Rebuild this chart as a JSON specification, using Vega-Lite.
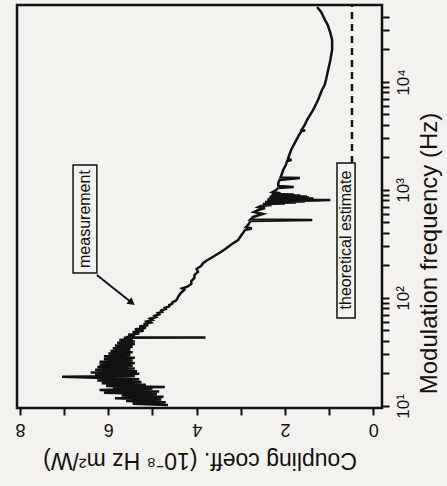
{
  "$schema": "https://vega.github.io/schema/vega-lite/v6.json",
  "width": 365,
  "height": 403,
  "autosize": {"type": "none"},
  "padding": {"left": 17, "top": 5, "right": 65, "bottom": 78},
  "background": "#f4f2ee",
  "config": {
    "font": "Liberation Sans",
    "view": {"stroke": "#111111", "strokeWidth": 2.5},
    "axis": {
      "domain": false,
      "tickColor": "#111111",
      "tickWidth": 2,
      "tickSize": 7,
      "labelColor": "#111111",
      "titleColor": "#111111",
      "labelFont": "Liberation Sans",
      "titleFont": "Liberation Sans",
      "titleFontWeight": "normal",
      "grid": false,
      "labelOverlap": false,
      "labelFlush": false,
      "labelBound": false
    }
  },
  "datasets": {
    "one": [{"k": 1}],
    "measurement": [
      {"f": 10.23, "v": 4.65}, {"f": 10.5, "v": 5.45}, {"f": 10.84, "v": 4.7}, {"f": 11.1, "v": 5.6},
      {"f": 11.48, "v": 4.8}, {"f": 11.8, "v": 5.85}, {"f": 12.16, "v": 4.75}, {"f": 12.5, "v": 5.7},
      {"f": 12.88, "v": 4.9}, {"f": 13.25, "v": 6.1}, {"f": 13.65, "v": 4.85}, {"f": 14.05, "v": 6.2},
      {"f": 14.45, "v": 5.0}, {"f": 14.75, "v": 5.9}, {"f": 15.0, "v": 4.72}, {"f": 15.31, "v": 6.05},
      {"f": 15.75, "v": 5.15}, {"f": 16.22, "v": 6.15}, {"f": 16.7, "v": 5.25}, {"f": 17.18, "v": 6.25},
      {"f": 17.7, "v": 5.3}, {"f": 18.2, "v": 6.1}, {"f": 18.7, "v": 7.05}, {"f": 18.95, "v": 5.4},
      {"f": 19.28, "v": 6.3}, {"f": 19.85, "v": 5.3}, {"f": 20.42, "v": 6.4}, {"f": 21.0, "v": 5.35},
      {"f": 21.63, "v": 6.3}, {"f": 22.25, "v": 5.4}, {"f": 22.91, "v": 6.25}, {"f": 23.6, "v": 5.45},
      {"f": 24.27, "v": 6.2}, {"f": 25.0, "v": 5.4}, {"f": 25.7, "v": 6.2}, {"f": 26.45, "v": 5.45},
      {"f": 27.23, "v": 6.1}, {"f": 28.0, "v": 5.4}, {"f": 28.84, "v": 6.1}, {"f": 29.7, "v": 5.5},
      {"f": 30.55, "v": 6.0}, {"f": 31.45, "v": 5.45}, {"f": 32.36, "v": 5.95}, {"f": 33.3, "v": 5.5},
      {"f": 34.28, "v": 5.9}, {"f": 35.3, "v": 5.45}, {"f": 36.31, "v": 5.85}, {"f": 37.4, "v": 5.4},
      {"f": 38.46, "v": 5.8}, {"f": 39.6, "v": 5.4}, {"f": 40.74, "v": 5.75}, {"f": 41.8, "v": 5.45},
      {"f": 42.9, "v": 5.65}, {"f": 43.15, "v": 3.8}, {"f": 43.4, "v": 5.6}, {"f": 44.5, "v": 5.4},
      {"f": 45.71, "v": 5.55}, {"f": 47.0, "v": 5.3}, {"f": 48.42, "v": 5.45}, {"f": 49.8, "v": 5.2},
      {"f": 51.29, "v": 5.4}, {"f": 52.8, "v": 5.15}, {"f": 54.33, "v": 5.3}, {"f": 55.9, "v": 5.1},
      {"f": 57.54, "v": 5.2}, {"f": 59.2, "v": 5.05}, {"f": 60.95, "v": 5.12}, {"f": 62.7, "v": 5.0},
      {"f": 64.57, "v": 5.05}, {"f": 66.5, "v": 4.92}, {"f": 68.39, "v": 4.95}, {"f": 70.4, "v": 4.85},
      {"f": 72.44, "v": 4.88}, {"f": 74.6, "v": 4.78}, {"f": 76.74, "v": 4.8}, {"f": 79.0, "v": 4.7},
      {"f": 81.28, "v": 4.72}, {"f": 83.7, "v": 4.62}, {"f": 86.1, "v": 4.62}, {"f": 88.6, "v": 4.55},
      {"f": 91.2, "v": 4.55}, {"f": 94.0, "v": 4.48}, {"f": 96.61, "v": 4.45},
      {"f": 102.3, "v": 4.42}, {"f": 111.2, "v": 4.36}, {"f": 118.6, "v": 4.28}, {"f": 122.5, "v": 4.33},
      {"f": 126.5, "v": 4.22}, {"f": 134.9, "v": 4.12}, {"f": 143.6, "v": 4.12}, {"f": 153.1, "v": 4.05},
      {"f": 163.3, "v": 4.05}, {"f": 174.2, "v": 3.97}, {"f": 185.8, "v": 4.0}, {"f": 197.8, "v": 3.9},
      {"f": 210.9, "v": 3.85}, {"f": 224.9, "v": 3.75}, {"f": 244.9, "v": 3.6}, {"f": 266.7, "v": 3.45},
      {"f": 290.4, "v": 3.32}, {"f": 316.2, "v": 3.2}, {"f": 344.4, "v": 3.06}, {"f": 375.0, "v": 3.0},
      {"f": 399.9, "v": 2.95}, {"f": 426.6, "v": 2.9}, {"f": 440.0, "v": 2.75}, {"f": 454.0, "v": 2.88},
      {"f": 484.2, "v": 2.82}, {"f": 516.4, "v": 2.78}, {"f": 527.2, "v": 1.38}, {"f": 533.0, "v": 2.78},
      {"f": 562.3, "v": 2.72}, {"f": 599.8, "v": 2.5}, {"f": 625.2, "v": 2.7}, {"f": 653.1, "v": 2.6},
      {"f": 680.8, "v": 2.45}, {"f": 695.0, "v": 2.6}, {"f": 711.2, "v": 2.55}, {"f": 725.0, "v": 2.3},
      {"f": 741.3, "v": 2.5}, {"f": 750.0, "v": 2.0}, {"f": 758.0, "v": 2.45}, {"f": 766.0, "v": 1.75},
      {"f": 774.5, "v": 2.45}, {"f": 782.0, "v": 1.55}, {"f": 790.7, "v": 2.4}, {"f": 800.0, "v": 1.3},
      {"f": 807.5, "v": 0.97}, {"f": 812.0, "v": 2.4}, {"f": 818.0, "v": 1.4}, {"f": 826.0, "v": 2.38},
      {"f": 834.0, "v": 1.35}, {"f": 843.3, "v": 2.35}, {"f": 852.0, "v": 1.45}, {"f": 860.9, "v": 2.35},
      {"f": 870.0, "v": 1.5}, {"f": 879.0, "v": 2.32}, {"f": 889.0, "v": 1.65}, {"f": 899.5, "v": 2.3},
      {"f": 909.0, "v": 1.8}, {"f": 918.3, "v": 2.3}, {"f": 935.0, "v": 2.1}, {"f": 957.2, "v": 2.28},
      {"f": 1000, "v": 2.2},
      {"f": 1044, "v": 2.15}, {"f": 1067, "v": 1.8}, {"f": 1089, "v": 2.15}, {"f": 1161, "v": 2.15},
      {"f": 1238, "v": 2.12}, {"f": 1291, "v": 1.66}, {"f": 1306, "v": 2.1}, {"f": 1406, "v": 2.07},
      {"f": 1531, "v": 2.04}, {"f": 1702, "v": 1.98}, {"f": 1857, "v": 1.95}, {"f": 1896, "v": 1.85},
      {"f": 1936, "v": 1.93}, {"f": 2109, "v": 1.9}, {"f": 2344, "v": 1.86}, {"f": 2612, "v": 1.8},
      {"f": 2904, "v": 1.74}, {"f": 3228, "v": 1.68}, {"f": 3516, "v": 1.62}, {"f": 3560, "v": 1.54},
      {"f": 3600, "v": 1.62}, {"f": 3999, "v": 1.55}, {"f": 4446, "v": 1.5}, {"f": 5508, "v": 1.36},
      {"f": 6811, "v": 1.25}, {"f": 8433, "v": 1.16}, {"f": 9376, "v": 1.1}, {"f": 10440, "v": 1.07},
      {"f": 12920, "v": 1.02}, {"f": 15990, "v": 0.97}, {"f": 19770, "v": 0.93}, {"f": 24480, "v": 0.93},
      {"f": 28440, "v": 0.97}, {"f": 33730, "v": 1.03}, {"f": 37500, "v": 1.09}, {"f": 44460, "v": 1.18},
      {"f": 49430, "v": 1.27}
    ]
  },
  "layer": [
    {
      "data": {"name": "measurement"},
      "mark": {"type": "line", "color": "#111111", "strokeWidth": 2.5, "strokeJoin": "miter"},
      "encoding": {
        "order": {"field": "f", "type": "quantitative"},
        "x": {
          "field": "v", "type": "quantitative",
          "scale": {"domain": [-0.2, 8.07], "reverse": true, "nice": false, "zero": false},
          "axis": {
            "orient": "bottom",
            "values": [0, 0.5, 1, 1.5, 2, 2.5, 3, 3.5, 4, 4.5, 5, 5.5, 6, 6.5, 7, 7.5, 8],
            "labelExpr": "datum.value % 2 == 0 ? format(datum.value, 'd') : ''",
            "labelAngle": 180,
            "labelFontSize": 18,
            "labelPadding": 4,
            "title": "Coupling coeff. (10⁻⁸ Hz m²/W)",
            "titleAngle": 180,
            "titleBaseline": "bottom",
            "titleFontSize": 23,
            "titlePadding": 10
          }
        },
        "y": {
          "field": "f", "type": "quantitative",
          "scale": {"type": "log", "domain": [9.58, 51600], "nice": false},
          "axis": {
            "orient": "right",
            "values": [10, 20, 30, 40, 50, 60, 70, 80, 90, 100, 200, 300, 400, 500, 600, 700, 800, 900, 1000, 2000, 3000, 4000, 5000, 6000, 7000, 8000, 9000, 10000, 20000, 30000, 40000],
            "labelExpr": "datum.value == 10 ? '10¹' : datum.value == 100 ? '10²' : datum.value == 1000 ? '10³' : datum.value == 10000 ? '10⁴' : ''",
            "labelAngle": 270,
            "labelFontSize": 17,
            "labelPadding": 6,
            "title": "Modulation frequency (Hz)",
            "titleAngle": 270,
            "titleBaseline": "top",
            "titleFontSize": 24,
            "titlePadding": 6,
            "titleY": 248
          }
        }
      }
    },
    {
      "data": {"name": "one"},
      "mark": {"type": "rule", "color": "#111111", "strokeWidth": 2.5, "strokeDash": [7, 5]},
      "encoding": {
        "x": {"datum": 0.48, "type": "quantitative"},
        "y": {"datum": 1780, "type": "quantitative"},
        "y2": {"datum": 51600}
      }
    },
    {
      "data": {"name": "one"},
      "mark": {"type": "rect", "fill": "#f4f2ee", "stroke": "#111111", "strokeWidth": 1.5},
      "encoding": {
        "x": {"datum": 6.8, "type": "quantitative"},
        "x2": {"datum": 6.26},
        "y": {"datum": 170, "type": "quantitative"},
        "y2": {"datum": 1702}
      }
    },
    {
      "data": {"name": "one"},
      "mark": {"type": "text", "angle": 270, "fontSize": 16, "color": "#111111", "align": "center", "baseline": "middle"},
      "encoding": {
        "x": {"datum": 6.53, "type": "quantitative"},
        "y": {"datum": 538, "type": "quantitative"},
        "text": {"value": "measurement"}
      }
    },
    {
      "data": {"name": "one"},
      "mark": {"type": "rect", "fill": "#f4f2ee", "stroke": "#111111", "strokeWidth": 1.5},
      "encoding": {
        "x": {"datum": 0.82, "type": "quantitative"},
        "x2": {"datum": 0.41},
        "y": {"datum": 65.3, "type": "quantitative"},
        "y2": {"datum": 1778}
      }
    },
    {
      "data": {"name": "one"},
      "mark": {"type": "text", "angle": 270, "fontSize": 16, "color": "#111111", "align": "center", "baseline": "middle"},
      "encoding": {
        "x": {"datum": 0.61, "type": "quantitative"},
        "y": {"datum": 344, "type": "quantitative"},
        "text": {"value": "theoretical estimate"}
      }
    },
    {
      "data": {"name": "one"},
      "mark": {"type": "rule", "color": "#111111", "strokeWidth": 2},
      "encoding": {
        "x": {"datum": 6.26, "type": "quantitative"},
        "x2": {"datum": 5.49},
        "y": {"datum": 163, "type": "quantitative"},
        "y2": {"datum": 91.8}
      }
    },
    {
      "data": {"name": "one"},
      "mark": {"type": "point", "shape": "triangle", "filled": true, "color": "#111111", "size": 70, "angle": 128, "opacity": 1},
      "encoding": {
        "x": {"datum": 5.49, "type": "quantitative"},
        "y": {"datum": 91.8, "type": "quantitative"}
      }
    }
  ]
}
